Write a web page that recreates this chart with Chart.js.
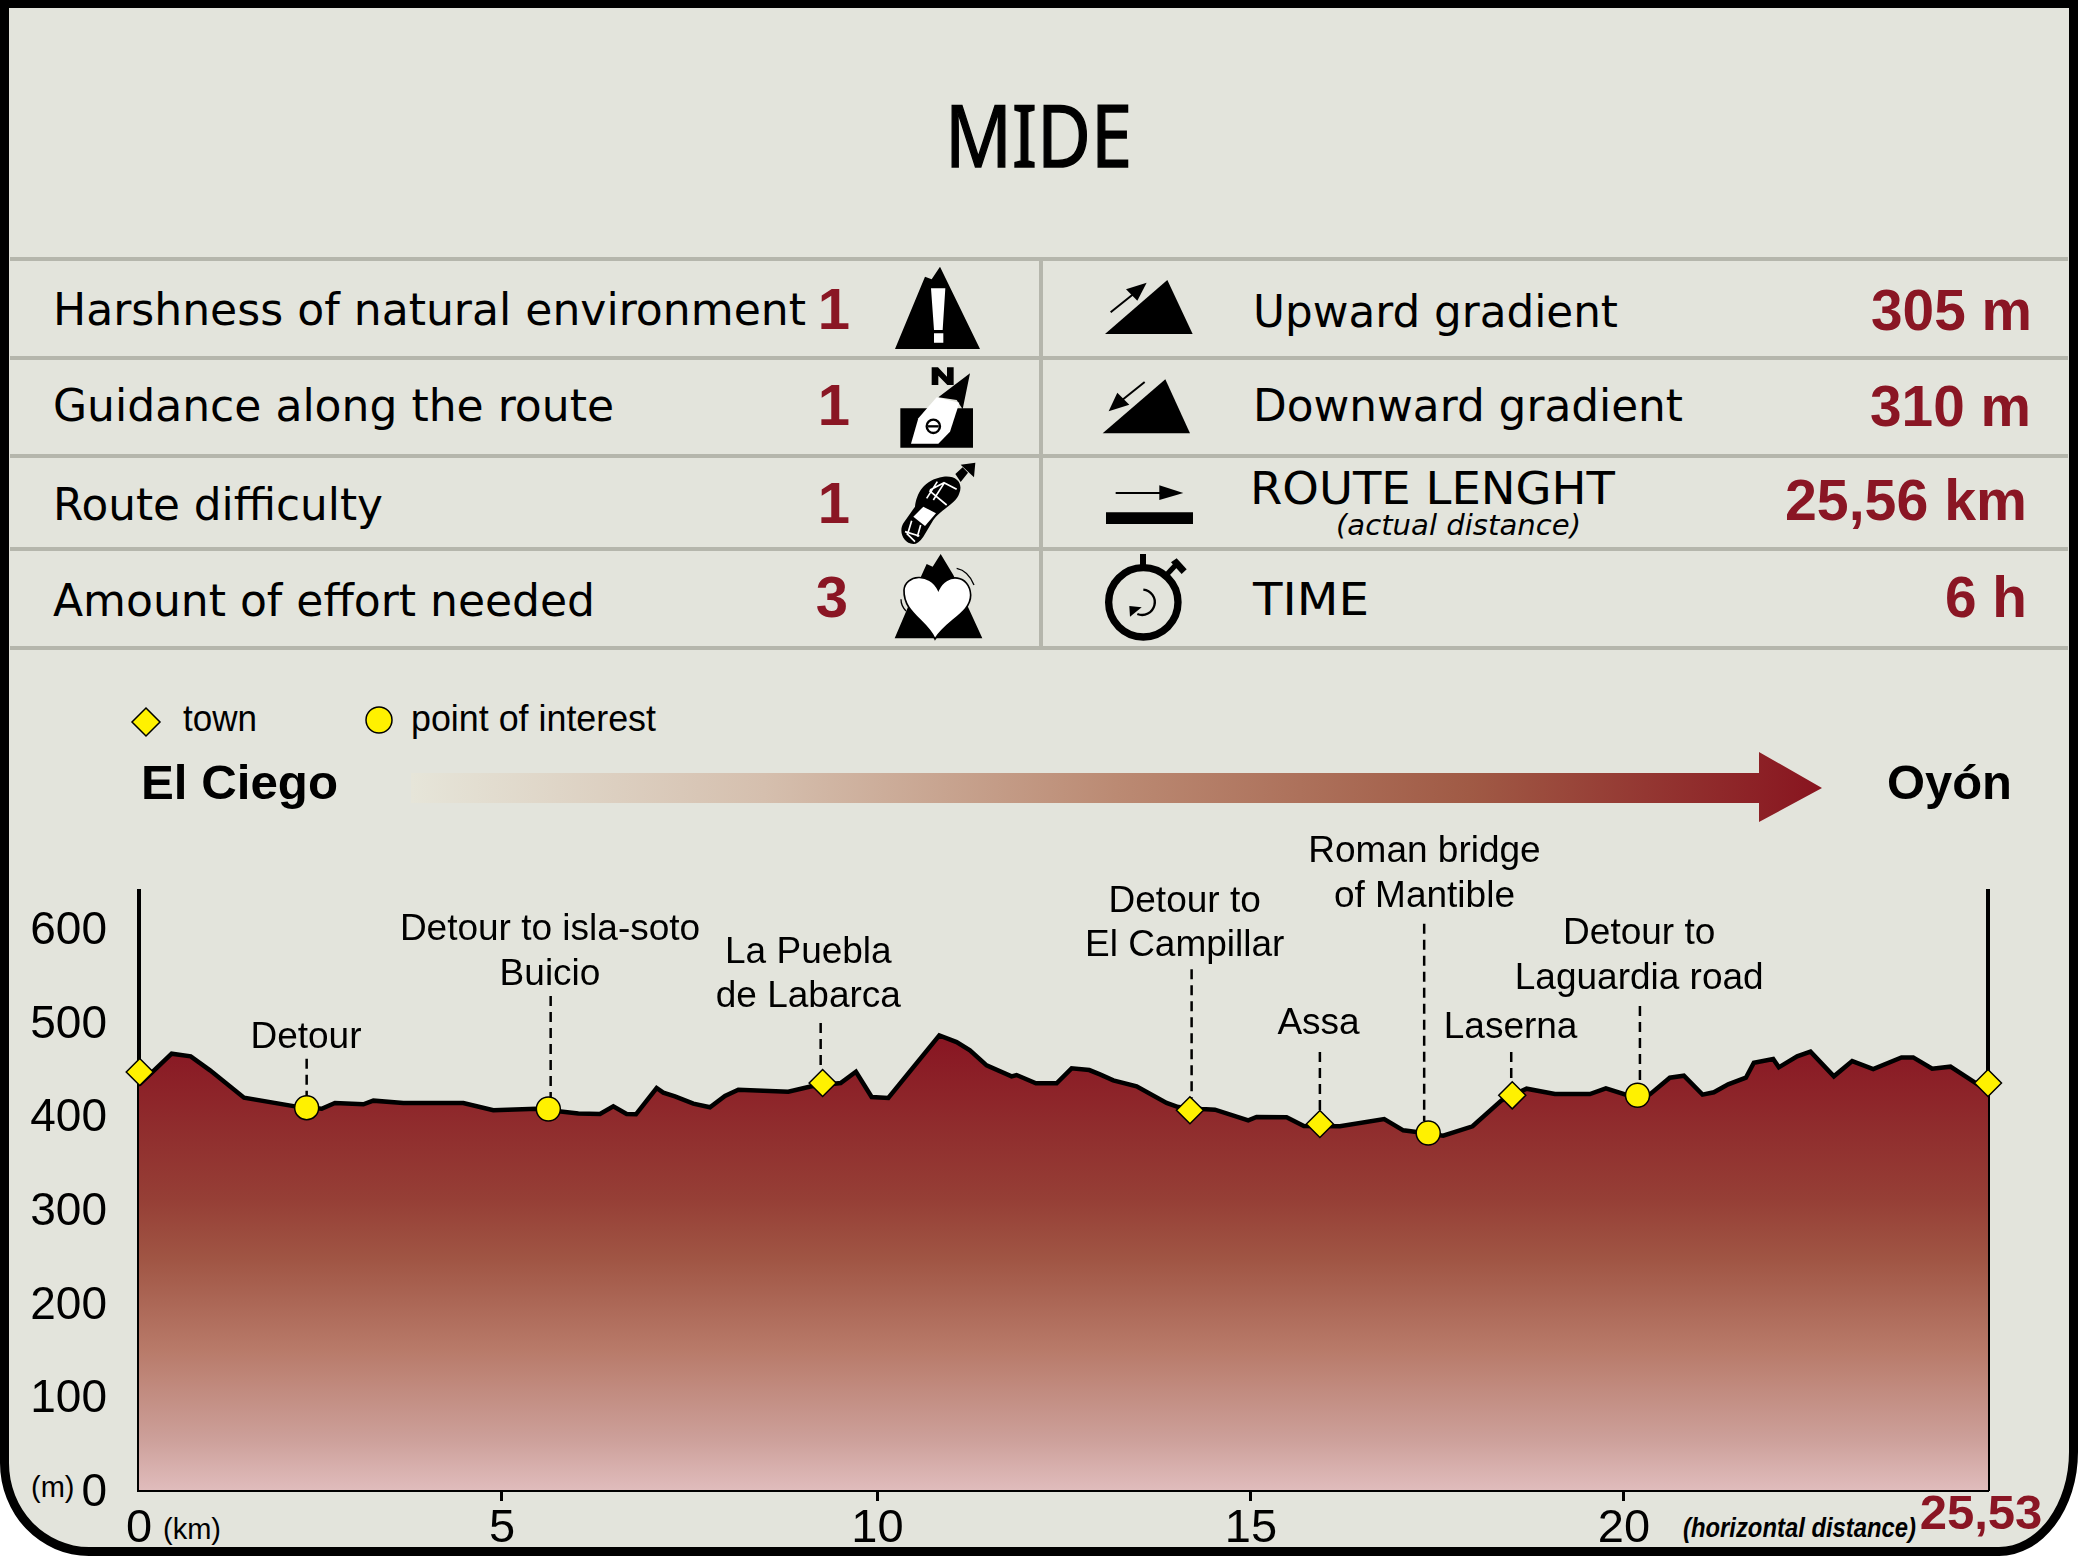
<!DOCTYPE html>
<html>
<head>
<meta charset="utf-8">
<title>MIDE</title>
<script src="https://cdn.jsdelivr.net/npm/chart.js@4/dist/chart.umd.min.js"></script>
<style>
  html, body { margin: 0; padding: 0; background: #fff; }
  #page { position: relative; width: 2078px; height: 1556px; overflow: hidden; }
  #frame { position: absolute; left: 0; top: 0; width: 2078px; height: 1556px; box-sizing: border-box;
           background: #e3e4dc; border: 9px solid #000; border-top-width: 8px;
           border-bottom-left-radius: 89px 93px; border-bottom-right-radius: 79px 104px; }
  #head { position: absolute; left: 0; top: 0; }
  #profile { position: absolute; left: 0; top: 0; }
  .row { font: 44.5px "DejaVu Sans"; fill: #000; }
  .val { font: bold 58px "Liberation Sans"; fill: #8a1624; }
  .leg { font: 36px "Liberation Sans"; fill: #000; }
  .end { font: bold 48px "Liberation Sans"; fill: #000; }
</style>
</head>
<body>
<div id="page">
<div id="frame"></div>
<svg id="head" width="2078" height="1556" viewBox="0 0 2078 1556">
  <defs>
    <linearGradient id="arrowFill" gradientUnits="userSpaceOnUse" x1="411" y1="0" x2="1822" y2="0">
      <stop offset="0" stop-color="#e6e5d9"/>
      <stop offset="0.25" stop-color="#d5bfae"/>
      <stop offset="0.5" stop-color="#bb8a73"/>
      <stop offset="0.75" stop-color="#a05a45"/>
      <stop offset="1" stop-color="#88141f"/>
    </linearGradient>
  </defs>

  <text x="945" y="167" font-family="Noto Sans" font-size="86" stroke="#000" stroke-width="1.5" textLength="187" lengthAdjust="spacingAndGlyphs">MIDE</text>

  <!-- table rules -->
  <g stroke="#b5b6ac" stroke-width="4" fill="none">
    <path d="M10 259H2068M10 358H2068M10 456H2068M10 549H2068M10 648H2068M1041 259V648"/>
  </g>

  <!-- left column -->
  <text class="row" x="53" y="325" textLength="753" lengthAdjust="spacingAndGlyphs">Harshness of natural environment</text>
  <text class="row" x="53" y="421" textLength="561" lengthAdjust="spacingAndGlyphs">Guidance along the route</text>
  <text class="row" x="53" y="520" textLength="330" lengthAdjust="spacingAndGlyphs">Route difficulty</text>
  <text class="row" x="53" y="616" textLength="542" lengthAdjust="spacingAndGlyphs">Amount of effort needed</text>
  <g text-anchor="middle">
    <text class="val" x="834" y="329">1</text>
    <text class="val" x="834" y="425">1</text>
    <text class="val" x="834" y="523">1</text>
    <text class="val" x="832" y="617">3</text>
  </g>

  <!-- right column -->
  <text class="row" x="1253" y="327" textLength="365" lengthAdjust="spacingAndGlyphs">Upward gradient</text>
  <text class="row" x="1253" y="421" textLength="430" lengthAdjust="spacingAndGlyphs">Downward gradient</text>
  <text class="row" x="1250" y="504" textLength="365" lengthAdjust="spacingAndGlyphs">ROUTE LENGHT</text>
  <text x="1336" y="535" font-family="DejaVu Sans" font-style="italic" font-size="29" textLength="245" lengthAdjust="spacingAndGlyphs">(actual distance)</text>
  <text class="row" x="1253" y="615" textLength="116" lengthAdjust="spacingAndGlyphs">TIME</text>
  <text class="val" x="1871" y="330" textLength="161" lengthAdjust="spacingAndGlyphs">305 m</text>
  <text class="val" x="1870" y="426" textLength="161" lengthAdjust="spacingAndGlyphs">310 m</text>
  <text class="val" x="1785" y="520" textLength="242" lengthAdjust="spacingAndGlyphs">25,56 km</text>
  <text class="val" x="1945" y="617" textLength="82" lengthAdjust="spacingAndGlyphs">6 h</text>

  <!-- icons, drawn in the 3x coordinates of the crop at 800,250 -->
  <g transform="translate(800 250) scale(0.33333)">
    <path d="M285 297L375 80L395 88L420 50L540 297Z"/>
    <path d="M393 115H436L428 240H402ZM402 250H430V278H402Z" fill="#fff"/>

    <path d="M301 475H519V593H301Z"/>
    <path d="M415 442L510 370L488 478L470 450Z"/>
    <path d="M410 442L478 458L450 545L415 581H333L355 505Z" fill="#fff"/>
    <circle cx="400" cy="529" r="20" fill="none" stroke="#000" stroke-width="7"/>
    <path d="M384 529H416" stroke="#000" stroke-width="7"/>
    <path d="M395 352H414L441 380V352H461V405H442L415 377V405H395Z"/>

    <path d="M340 882C310 880 295 845 310 820L345 770C350 730 370 690 430 680C470 675 490 700 478 730C470 760 420 780 400 810L370 860C360 875 350 882 340 882Z"/>
    <path d="M466 672L488 652L504 668L482 696ZM482 644L526 638L522 682Z"/>
    <path d="M340 800L370 770L408 790L375 828Z" fill="#fff"/>
    <path d="M390 720L432 698L470 718M388 722L440 765M412 695L380 745M432 700L400 750M315 845L358 858M335 812L325 845M362 825L352 860M320 850L345 875" fill="none" stroke="#fff" stroke-width="5"/>

    <path d="M284 1165L365 975L380 942L398 950L422 912L460 975L547 1165Z"/>
    <path d="M405 1167C380 1110 310 1090 312 1020C315 975 390 965 415 1020C440 965 510 975 512 1035C512 1090 440 1110 405 1167Z" fill="#fff" stroke="#000" stroke-width="5"/>
    <path d="M470 955C495 960 512 980 522 1005M303 1048C303 1065 310 1075 318 1083" fill="none" stroke="#000" stroke-width="4"/>

    <path d="M915 252L1102 90L1178 252Z"/>
    <path d="M932 187L1005 128" stroke="#000" stroke-width="6"/>
    <path d="M978 118L1040 98L1012 152Z"/>

    <path d="M908 550L1096 388L1170 550Z"/>
    <path d="M1034 396L960 455" stroke="#000" stroke-width="6"/>
    <path d="M926 484L952 428L988 464Z"/>

    <path d="M947 729H1090" stroke="#000" stroke-width="6"/>
    <path d="M1078 706L1150 729L1078 750Z"/>
    <path d="M918 787H1179V822H918Z"/>

    <circle cx="1030" cy="1057" r="104" fill="none" stroke="#000" stroke-width="22"/>
    <path d="M1020 912H1038V950H1020Z"/>
    <path d="M1102 972L1130 942" stroke="#000" stroke-width="16"/>
    <path d="M1113 937L1130 925L1160 958L1145 972Z"/>
    <path d="M1030 1019A38 38 0 1 1 1012 1092" fill="none" stroke="#000" stroke-width="7"/>
    <path d="M988 1068L1025 1072L990 1100Z"/>
  </g>

  <!-- legend and route arrow -->
  <path d="M146 708L160 722L146 736L132 722Z" fill="#fff100" stroke="#000" stroke-width="1.5"/>
  <circle cx="379" cy="720" r="13" fill="#fff100" stroke="#000" stroke-width="1.5"/>
  <text class="leg" x="183" y="731" textLength="74" lengthAdjust="spacingAndGlyphs">town</text>
  <text class="leg" x="411" y="731" textLength="245" lengthAdjust="spacingAndGlyphs">point of interest</text>
  <text class="end" x="141" y="799" textLength="197" lengthAdjust="spacingAndGlyphs">El Ciego</text>
  <text class="end" x="1887" y="799" textLength="125" lengthAdjust="spacingAndGlyphs">Oyón</text>
  <path d="M411 773H1759V752L1822 788L1759 822V803H411Z" fill="url(#arrowFill)"/>

  <!-- axis notes -->
  <text x="31" y="1497" font-family="Liberation Sans" font-size="29">(m)</text>
  <text x="163" y="1539" font-family="Liberation Sans" font-size="29">(km)</text>
  <text x="1683" y="1537" font-family="Liberation Sans" font-weight="bold" font-style="italic" font-size="28" textLength="233" lengthAdjust="spacingAndGlyphs">(horizontal distance)</text>
</svg>
<canvas id="profile" width="2078" height="1556"></canvas>
</div>

<script>
// elevation profile
const profileKm = [0, 0.198, 0.451, 0.714, 0.981, 1.45, 2.154, 2.522, 2.706, 3.098, 3.236, 3.65, 4.478, 4.892, 5.491, 6.066, 6.365, 6.549,
  6.733, 6.862, 7.147, 7.239, 7.4, 7.654, 7.884, 8.091, 8.275, 8.965, 9.287, 9.688, 9.899, 10.116, 10.346, 11.05, 11.289, 11.473, 11.703,
  12.048, 12.117, 12.384, 12.67, 12.877, 13.121, 13.268, 13.452, 13.774, 14.188, 14.349, 14.672, 14.856, 15.316, 15.431, 15.845, 16.084,
  16.581, 17.193, 17.456, 17.64, 18.008, 18.413, 18.813, 19.159, 19.55, 20.033, 20.254, 20.53, 20.861, 21.137, 21.331, 21.588, 21.745,
  21.943, 22.187, 22.297, 22.564, 22.642, 22.895, 23.079, 23.402, 23.655, 23.945, 24.336, 24.497, 24.759, 25.012, 25.325, 25.53];
const profileAlt = [433, 447.6, 466.2, 463.3, 448.4, 419.2, 409.9, 407.4, 413.5, 412.1, 416, 413.5, 413.5, 405.7, 407.4, 402.4, 401.7, 409.9,
  401.7, 401.4, 429.5, 424.5, 420.6, 412.8, 408.9, 421, 427.7, 425.6, 431.3, 434.8, 446.9, 419.9, 418.8, 485.7, 478.6, 469.7, 453.7,
  442, 443.4, 434.5, 434.5, 450.5, 448.7, 444.1, 437.7, 431.3, 413.5, 409.2, 407.1, 406.4, 395, 398.5, 398.2, 388.9,
  388.6, 396.4, 384.3, 382.5, 378.6, 388.6, 416.3, 428.8, 423.1, 423.1, 429.1, 422.4, 422.7, 440.5, 442.7, 422.4, 424.9,
  433.4, 440.5, 456.5, 460.5, 451.6, 463.3, 468.3, 442, 458.3, 449.8, 462.2, 462.2, 450.1, 452.3, 436.6, 426.3];

const townKm = [0.01, 9.439, 14.511, 16.305, 18.961, 25.53];
const townAlt = [446.6, 434.8, 405.7, 391.1, 421.7, 434.8];
const poiKm = [2.315, 5.652, 17.801, 20.691];
const poiAlt = [408.5, 407.1, 381.4, 421.7];

const yTicks = [0, 100, 200, 300, 400, 500, 600];
const xTickKm = [0, 5.012, 10.196, 15.353, 20.503];
const xTickLabels = ['0', '5', '10', '15', '20'];
const totalLabel = '25,53';
const totalKm = 25.53;

// dashed leaders: km, foot, top
const leaderKm = [2.315, 5.684, 9.412, 14.534, 16.305, 17.745, 18.947, 20.724];
const leaderFoot = [408.5, 407.1, 434.8, 405.7, 391.1, 381.4, 421.7, 421.7];
const leaderTop = [460.8, 527.8, 498.9, 556.3, 467.9, 605, 467.9, 517];

const placeNames = ['Detour', 'Detour to isla-soto', 'Buicio', 'La Puebla', 'de Labarca', 'Detour to', 'El Campillar', 'Assa',
  'Roman bridge', 'of Mantible', 'Laserna', 'Detour to', 'Laguardia road'];
const placeKm = [2.305, 5.675, 5.675, 9.242, 9.242, 14.438, 14.438, 16.286, 17.749, 17.749, 18.938, 20.714, 20.714];
const placeAlt = [485.8, 600.4, 552.3, 576.3, 529.6, 630.1, 583.4, 499.9, 683.8, 635.7, 495.7, 596.1, 548];

const toPoints = (xs, ys) => xs.map((x, i) => ({ x: x, y: ys[i] }));

function profileFill(context) {
  const { ctx, chartArea, scales } = context.chart;
  if (!chartArea) return null;
  const g = ctx.createLinearGradient(0, scales.y.getPixelForValue(485), 0, scales.y.getPixelForValue(0));
  g.addColorStop(0, '#881522');
  g.addColorStop(0.36, '#963f36');
  g.addColorStop(0.49, '#a05544');
  g.addColorStop(0.69, '#b87a69');
  g.addColorStop(0.885, '#cc9f99');
  g.addColorStop(1, '#e0bcbc');
  return g;
}

// leaders and place names sit in data space so they follow the scales
const placesPlugin = {
  id: 'places',
  afterDatasetsDraw(chart) {
    const { ctx, scales } = chart;
    ctx.save();
    ctx.strokeStyle = '#000';
    ctx.lineWidth = 2.5;
    ctx.setLineDash([10, 6]);
    leaderKm.forEach((km, i) => {
      const x = scales.x.getPixelForValue(km);
      ctx.beginPath();
      ctx.moveTo(x, scales.y.getPixelForValue(leaderTop[i]));
      ctx.lineTo(x, scales.y.getPixelForValue(leaderFoot[i]) - 12);
      ctx.stroke();
    });
    ctx.setLineDash([]);
    ctx.fillStyle = '#000';
    ctx.font = '37px "Liberation Sans"';
    ctx.textAlign = 'center';
    ctx.textBaseline = 'middle';
    placeNames.forEach((name, i) => {
      ctx.fillText(name, scales.x.getPixelForValue(placeKm[i]), scales.y.getPixelForValue(placeAlt[i]) + 2);
    });
    ctx.fillStyle = '#8a1624';
    ctx.font = 'bold 49px "Liberation Sans"';
    ctx.textBaseline = 'alphabetic';
    ctx.fillText(totalLabel, scales.x.getPixelForValue(totalKm) - 7, 1529);
    ctx.restore();
  }
};

const markerStyle = { backgroundColor: '#fff100', borderColor: '#000', pointBorderWidth: 1.5, showLine: false, clip: false };

new Chart(document.getElementById('profile'), {
  type: 'line',
  data: {
    datasets: [
      { ...markerStyle, label: 'town', data: toPoints(townKm, townAlt), pointStyle: 'rectRot', pointRadius: 13.5, order: 1 },
      { ...markerStyle, label: 'point of interest', data: toPoints(poiKm, poiAlt), pointStyle: 'circle', pointRadius: 12, order: 2 },
      { label: 'Altitude', data: toPoints(profileKm, profileAlt), borderColor: '#000', borderWidth: 4.5, borderJoinStyle: 'miter',
        backgroundColor: profileFill, fill: 'origin', tension: 0, pointRadius: 0, order: 3 }
    ]
  },
  options: {
    responsive: false,
    animation: false,
    devicePixelRatio: 1,
    layout: { padding: { top: 891, left: 0, right: 0, bottom: 0 } },
    plugins: { legend: { display: false }, tooltip: { enabled: false } },
    scales: {
      x: {
        type: 'linear', min: 0, max: totalKm,
        afterBuildTicks: (s) => { s.ticks = xTickKm.map((v) => ({ value: v })); },
        afterFit: (s) => { s.height = 66; },
        border: { color: '#000', width: 4 },
        grid: { drawOnChartArea: false, tickLength: 11, tickWidth: 3, tickColor: (c) => (c.index === 0 ? 'transparent' : '#000') },
        ticks: { autoSkip: false, maxRotation: 0, minRotation: 0, padding: 0, color: '#000', font: { family: 'Liberation Sans', size: 47 },
          callback: (v, i) => xTickLabels[i] }
      },
      y: {
        min: 0, max: 640,
        afterBuildTicks: (s) => { s.ticks = yTicks.map((v) => ({ value: v })); },
        afterFit: (s) => { s.width = 139; },
        border: { color: '#000', width: 4 },
        grid: { display: false, drawTicks: false },
        ticks: { padding: 32, labelOffset: 3, color: '#000', font: { family: 'Liberation Sans', size: 46 } }
      },
      yRight: {
        position: 'right', min: 0, max: 640,
        afterFit: (s) => { s.width = 90; },
        border: { color: '#000', width: 4 },
        grid: { display: false, drawTicks: false },
        ticks: { display: false }
      }
    }
  },
  plugins: [placesPlugin]
});
</script>
</body>
</html>
